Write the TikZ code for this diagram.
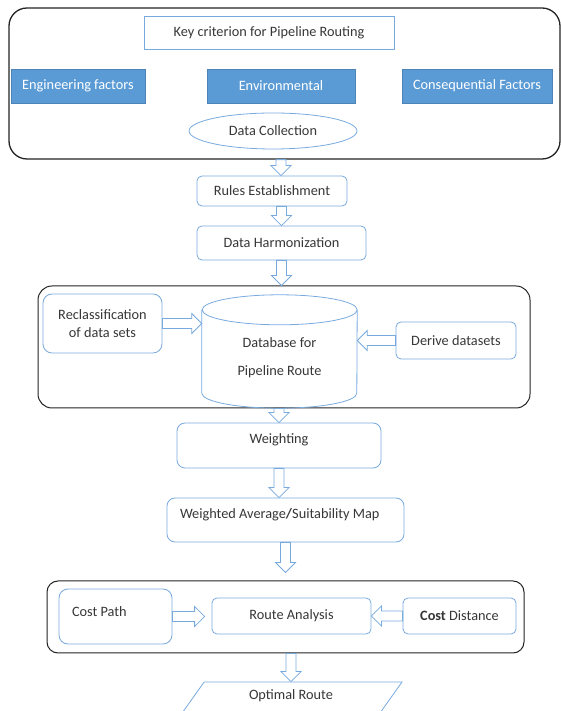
\documentclass[tikz,border=0pt]{standalone}
\usepackage{fontspec}
\setmainfont{Carlito}
\usetikzlibrary{calc,shapes.geometric}
\definecolor{flowblue}{RGB}{120,170,222}
\definecolor{flowfill}{RGB}{91,155,213}
\definecolor{flowtext}{RGB}{55,55,55}
\definecolor{flowframe}{RGB}{35,35,35}

\begin{document}
\begin{tikzpicture}[x=1pt,y=1pt,
  font=\fontsize{14.3}{18}\selectfont, text=flowtext,
  stepbox/.style={draw=flowblue, line width=0.8pt, rounded corners=5pt, fill=white, inner sep=2pt},
  factor/.style={fill=flowfill, draw=flowfill!85!black, line width=0.4pt, text=white, minimum height=34pt},
  group/.style={draw=flowframe, line width=1pt, rounded corners=14pt},
  blockarrow/.style={draw=flowblue, fill=white, line width=0.8pt, to path={
    ($(\tikztostart)!5pt!90:(\tikztotarget)$)
    -- ($(\tikztotarget)!10pt!(\tikztostart)!5pt!90:(\tikztotarget)$)
    -- ($(\tikztotarget)!10pt!(\tikztostart)!10pt!90:(\tikztotarget)$)
    -- (\tikztotarget)
    -- ($(\tikztotarget)!10pt!(\tikztostart)!10pt!-90:(\tikztotarget)$)
    -- ($(\tikztotarget)!10pt!(\tikztostart)!5pt!-90:(\tikztotarget)$)
    -- ($(\tikztostart)!5pt!-90:(\tikztotarget)$)
    -- cycle}}
]
\useasboundingbox (0,0) rectangle (561,711);

% Key criteria panel
\node[group, line width=1.3pt, rounded corners=18pt, minimum width=551pt, minimum height=151pt] (critbox) at (284.5,627.5) {};
\node[draw=flowblue, line width=0.8pt, minimum width=250pt, minimum height=33pt] (key) at (269,678.5) {Key criterion for Pipeline Routing};
\node[factor, minimum width=134pt] (eng) at (78,625) {Engineering factors};
\node[factor, minimum width=148pt] (env) at (281,625) {Environmental};
\node[factor, minimum width=150pt] (cons) at (477,625) {Consequential Factors};
\node[ellipse, draw=flowblue, line width=0.8pt, minimum width=168pt, minimum height=36pt, inner sep=0pt] (coll) at (273,580) {Data Collection};

% Preparation steps
\node[stepbox, minimum width=150pt, minimum height=30pt] (rules) at (272,520) {Rules Establishment};
\node[stepbox, minimum width=169pt, minimum height=34pt] (harm) at (281.5,468) {Data Harmonization};

% Database panel
\node[group, minimum width=492pt, minimum height=122pt] (dbbox) at (284,364) {};
\node[stepbox, minimum width=119pt, minimum height=59pt, rounded corners=9pt, align=center] (recl) at (102.5,387.5) {Reclassification\\of data sets};
\node[minimum width=155pt, minimum height=113pt, align=center] (db) at (279.5,359.5) {\rule{0pt}{22pt}Database for\\[10pt]Pipeline Route};
\draw[flowblue, line width=0.8pt] ([yshift=-15pt]db.north west) -- ([yshift=15pt]db.south west)
  arc[start angle=180, end angle=360, x radius=77.5pt, y radius=15pt]
  -- ([yshift=-15pt]db.north east)
  arc[start angle=0, end angle=360, x radius=77.5pt, y radius=15pt];
\node[stepbox, minimum width=120pt, minimum height=37pt] (derive) at (456,370.5) {Derive datasets};

% Weighting
\node[stepbox, minimum width=204pt, minimum height=45pt, rounded corners=8pt, text depth=14pt] (weight) at (279,265.5) {Weighting};
\node[stepbox, minimum width=237pt, minimum height=44pt, rounded corners=8pt, text width=211pt, align=flush left, text depth=14pt] (wavg) at (285.5,191) {Weighted Average\textbf{/}Suitability Map};

% Route analysis panel
\node[group, rounded corners=11pt, minimum width=477pt, minimum height=72pt] (routebox) at (285.5,94) {};
\node[stepbox, minimum width=113pt, minimum height=55pt, rounded corners=9pt, text width=87pt, align=flush left, text depth=9pt] (costpath) at (115.5,94.5) {Cost Path};
\node[stepbox, minimum width=159pt, minimum height=36pt] (route) at (291.5,95) {Route Analysis};
\node[stepbox, minimum width=113pt, minimum height=36pt] (costdist) at (459.5,95) {\textbf{Cost} Distance};

% Output
\node[trapezium, trapezium left angle=36.6, trapezium right angle=143.4, trapezium stretches body=true,
  draw=flowblue, line width=0.8pt, minimum width=222pt, minimum height=34pt, inner sep=0pt, text depth=8pt] (opt) at (291,12) {Optimal Route};

% Arrows
\draw[blockarrow] (critbox.south -| env) to (rules.north -| env);
\draw[blockarrow] (rules.south -| harm) to (harm.north);
\draw[blockarrow] (harm.south) to (harm.south |- dbbox.north);
\draw[blockarrow] (recl.east) to (recl.east -| db.west);
\draw[blockarrow] (derive.west) to (derive.west -| db.east);
\draw[blockarrow] (dbbox.south -| weight) to (weight.north);
\draw[blockarrow] (weight.south) to (weight.south |- wavg.north);
\draw[blockarrow] (wavg.south) to ($(wavg.south |- routebox.north)+(0,8)$);
\draw[blockarrow] (costpath.east) to ($(costpath.east -| route.west)+(-7,0)$);
\draw[blockarrow] (costdist.west) to (costdist.west -| route.east);
\draw[blockarrow] (routebox.south -| opt.north) to (opt.north);
\end{tikzpicture}
\end{document}
